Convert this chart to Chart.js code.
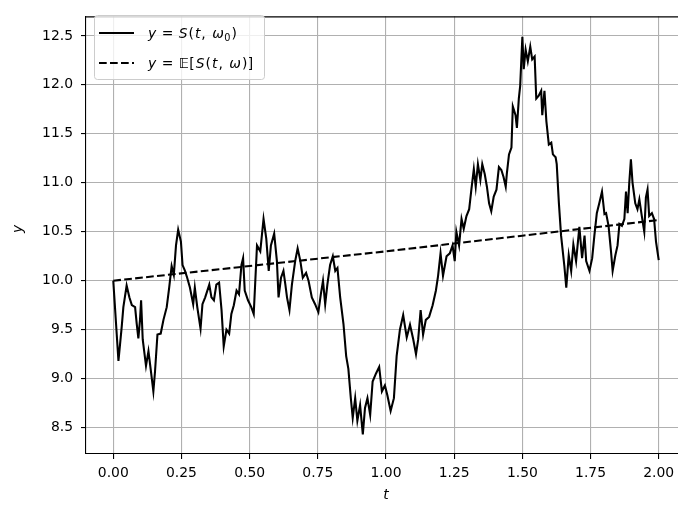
<!DOCTYPE html>
<html>
<head>
<meta charset="utf-8">
<style>
  html, body { margin: 0; padding: 0; background: #fff; overflow: hidden; }
</style>
</head>
<body>
<canvas id="gbm" width="700" height="505"></canvas>
<script src="https://cdn.jsdelivr.net/npm/chart.js"></script>
<script>
// sample path S(t, w0)
const tPath = [0, 0.019, 0.031, 0.037, 0.049, 0.059, 0.068, 0.080, 0.086, 0.092, 0.098, 0.102, 0.108, 0.120, 0.129, 0.137, 0.147, 0.153, 0.162, 0.174,
  0.184, 0.196, 0.205, 0.214, 0.222, 0.230, 0.238, 0.248, 0.254, 0.263, 0.271, 0.281, 0.293, 0.299, 0.308, 0.320, 0.327, 0.337, 0.352, 0.360,
  0.369, 0.378, 0.388, 0.397, 0.405, 0.415, 0.425, 0.433, 0.442, 0.452, 0.461, 0.470, 0.476, 0.482, 0.494, 0.506, 0.515, 0.527, 0.539, 0.551,
  0.561, 0.570, 0.578, 0.590, 0.600, 0.606, 0.615, 0.624, 0.631, 0.637, 0.646, 0.655, 0.667, 0.676, 0.686, 0.695, 0.707, 0.716, 0.728, 0.740,
  0.752, 0.761, 0.769, 0.777, 0.785, 0.795, 0.805, 0.814, 0.822, 0.832, 0.844, 0.854, 0.862, 0.871, 0.878, 0.887, 0.895, 0.905, 0.915, 0.923,
  0.932, 0.942, 0.951, 0.963, 0.975, 0.985, 0.996, 1.005, 1.017, 1.029, 1.039, 1.051, 1.063, 1.076, 1.088, 1.100, 1.110, 1.118, 1.127, 1.136,
  1.146, 1.158, 1.171, 1.183, 1.191, 1.200, 1.209, 1.222, 1.234, 1.244, 1.252, 1.258, 1.268, 1.277, 1.285, 1.295, 1.305, 1.313, 1.322, 1.329,
  1.337, 1.346, 1.353, 1.362, 1.370, 1.378, 1.386, 1.395, 1.405, 1.414, 1.423, 1.431, 1.439, 1.443, 1.451, 1.460, 1.465, 1.475, 1.480, 1.487,
  1.492, 1.500, 1.505, 1.512, 1.520, 1.529, 1.536, 1.545, 1.551, 1.560, 1.569, 1.573, 1.581, 1.588, 1.597, 1.606, 1.612, 1.622, 1.626, 1.634,
  1.642, 1.654, 1.661, 1.670, 1.679, 1.687, 1.697, 1.709, 1.719, 1.728, 1.734, 1.746, 1.756, 1.764, 1.773, 1.782, 1.792, 1.801, 1.807, 1.816,
  1.825, 1.831, 1.841, 1.849, 1.856, 1.865, 1.874, 1.880, 1.886, 1.892, 1.898, 1.904, 1.914, 1.922, 1.929, 1.938, 1.947, 1.953, 1.959, 1.965,
  1.975, 1.983, 1.990, 2.000];
const sPath = [10.00, 9.18, 9.53, 9.73, 9.95, 9.83, 9.75, 9.73, 9.56, 9.41, 9.60, 9.80, 9.40, 9.13, 9.28, 9.10, 8.87, 9.07, 9.45, 9.46,
  9.60, 9.73, 9.93, 10.15, 10.06, 10.36, 10.52, 10.40, 10.16, 10.10, 10.03, 9.93, 9.76, 9.93, 9.73, 9.51, 9.76, 9.83, 9.96, 9.83,
  9.80, 9.96, 9.98, 9.70, 9.33, 9.50, 9.46, 9.66, 9.75, 9.90, 9.86, 10.16, 10.23, 9.90, 9.80, 9.73, 9.66, 10.36, 10.30, 10.63,
  10.43, 10.10, 10.36, 10.48, 10.20, 9.83, 10.03, 10.10, 9.96, 9.83, 9.70, 9.96, 10.20, 10.33, 10.20, 10.03, 10.08, 10.00, 9.83, 9.76,
  9.68, 9.86, 10.00, 9.76, 9.96, 10.16, 10.25, 10.10, 10.13, 9.83, 9.56, 9.23, 9.10, 8.80, 8.60, 8.80, 8.57, 8.73, 8.43, 8.70,
  8.80, 8.63, 8.97, 9.05, 9.12, 8.87, 8.93, 8.83, 8.67, 8.80, 9.23, 9.50, 9.65, 9.42, 9.55, 9.40, 9.25, 9.40, 9.70, 9.45,
  9.60, 9.63, 9.75, 9.90, 10.05, 10.28, 10.05, 10.25, 10.28, 10.36, 10.20, 10.50, 10.36, 10.63, 10.53, 10.66, 10.73, 10.93, 11.14, 10.96,
  11.19, 11.03, 11.19, 11.09, 10.96, 10.79, 10.71, 10.86, 10.93, 11.16, 11.13, 11.06, 10.96, 11.09, 11.29, 11.36, 11.78, 11.69, 11.56, 11.86,
  11.99, 12.49, 12.16, 12.36, 12.24, 12.39, 12.26, 12.29, 11.86, 11.89, 11.94, 11.69, 11.94, 11.63, 11.39, 11.41, 11.29, 11.26, 11.19, 10.79,
  10.46, 10.15, 9.93, 10.26, 10.10, 10.37, 10.20, 10.55, 10.23, 10.46, 10.20, 10.10, 10.23, 10.46, 10.69, 10.79, 10.91, 10.68, 10.69, 10.56,
  10.30, 10.10, 10.26, 10.36, 10.58, 10.56, 10.63, 10.91, 10.69, 11.00, 11.24, 11.00, 10.79, 10.73, 10.83, 10.66, 10.50, 10.85, 10.93, 10.66,
  10.69, 10.63, 10.40, 10.21];

// expected value E[S(t, w)]
const tMean = [0, 0.5, 1.0, 1.5, 2.0];
const sMean = [10.00, 10.15, 10.30, 10.46, 10.62];

const xTicks = [0, 0.25, 0.5, 0.75, 1.0, 1.25, 1.5, 1.75, 2.0];
const yTicks = [8.5, 9.0, 9.5, 10.0, 10.5, 11.0, 11.5, 12.0, 12.5];

const FONT = '"DejaVu Sans", sans-serif';
const FS = 13.9;
const LW = 2.08;            // 1.5pt at 100 dpi
const DASH = [7.7, 3.3];

// mathtext-ish: [text, style, extra gap after]
function drawMath(ctx, parts, x, y) {
  for (const [txt, style, gap] of parts) {
    let size = FS, dy = 0, it = '';
    if (style === 'i') it = 'italic ';
    if (style === 'sub') { size = FS * 0.7; dy = 3; }
    ctx.font = it + size + 'px ' + FONT;
    ctx.fillText(txt, x, y + dy);
    x += ctx.measureText(txt).width + (gap || 0);
  }
}

const decorations = {
  id: 'decorations',
  afterDraw(chart) {
    const { ctx, chartArea } = chart;
    ctx.save();
    // top spine
    ctx.strokeStyle = '#000';
    ctx.lineWidth = 1.1;
    ctx.beginPath();
    ctx.moveTo(chartArea.left, chartArea.top + 0.5);
    ctx.lineTo(chartArea.right, chartArea.top + 0.5);
    ctx.stroke();

    // axis titles
    ctx.fillStyle = '#000';
    ctx.textAlign = 'center';
    ctx.textBaseline = 'middle';
    ctx.font = 'italic ' + FS + 'px ' + FONT;
    ctx.fillText('t', 386, 495);
    ctx.save();
    ctx.translate(18, 229);
    ctx.rotate(-Math.PI / 2);
    ctx.fillText('y', 0, 0);
    ctx.restore();

    // legend box
    const bx = 94.5, by = 15.5, bw = 170, bh = 64, r = 3;
    ctx.beginPath();
    ctx.moveTo(bx + r, by);
    ctx.arcTo(bx + bw, by, bx + bw, by + bh, r);
    ctx.arcTo(bx + bw, by + bh, bx, by + bh, r);
    ctx.arcTo(bx, by + bh, bx, by, r);
    ctx.arcTo(bx, by, bx + bw, by, r);
    ctx.closePath();
    ctx.fillStyle = 'rgba(255,255,255,0.8)';
    ctx.fill();
    ctx.strokeStyle = '#cccccc';
    ctx.lineWidth = 1;
    ctx.stroke();

    ctx.strokeStyle = '#000';
    ctx.lineWidth = LW;
    ctx.beginPath();
    ctx.moveTo(99, 33);
    ctx.lineTo(134, 33);
    ctx.stroke();
    ctx.setLineDash(DASH);
    ctx.beginPath();
    ctx.moveTo(99, 63);
    ctx.lineTo(134, 63);
    ctx.stroke();
    ctx.setLineDash([]);

    ctx.fillStyle = '#000';
    ctx.textAlign = 'left';
    ctx.textBaseline = 'alphabetic';
    drawMath(ctx, [['y', 'i', 1], [' = ', '', 1], ['S', 'i', 1], ['(', '', 1], ['t', 'i', 1], [', ', '', 2], ['\u03c9', 'i', 0.5], ['0', 'sub', 1], [')', '']], 148, 38);
    drawMath(ctx, [['y', 'i', 1], [' = ', '', 1], ['\ud835\udd3c', '', 0.5], ['[', '', 1], ['S', 'i', 1], ['(', '', 1], ['t', 'i', 1], [', ', '', 2], ['\u03c9', 'i', 1], [')', '', 0.5], [']', '']], 148, 68);
    ctx.restore();
  }
};

new Chart(document.getElementById('gbm'), {
  type: 'line',
  data: {
    datasets: [
      {
        label: 'path',
        data: tPath.map((t, i) => ({ x: t, y: sPath[i] })),
        borderColor: '#000',
        borderWidth: LW,
        pointRadius: 0,
        tension: 0,
      },
      {
        label: 'mean',
        data: tMean.map((t, i) => ({ x: t, y: sMean[i] })),
        borderColor: '#000',
        borderWidth: LW,
        borderDash: DASH,
        pointRadius: 0,
        tension: 0,
      },
    ],
  },
  options: {
    responsive: false,
    animation: false,
    layout: { padding: { top: 6, right: 14, left: 0, bottom: 0 } },
    plugins: { legend: { display: false }, tooltip: { enabled: false } },
    scales: {
      x: {
        type: 'linear',
        min: -0.1,
        max: 2.1,
        afterBuildTicks: (s) => { s.ticks = xTicks.map((v) => ({ value: v })); },
        afterFit: (s) => { s.height = 51; },
        ticks: {
          callback: (v) => Number(v).toFixed(2),
          font: { family: FONT, size: FS },
          color: '#000',
          padding: 6,
          maxRotation: 0,
          autoSkip: false,
        },
        grid: { color: '#b0b0b0', lineWidth: 1.1, tickColor: '#000', tickLength: 5, tickWidth: 1.1 },
        border: { color: '#000', width: 1.1 },
      },
      y: {
        min: 8.23,
        max: 12.7,
        afterBuildTicks: (s) => { s.ticks = yTicks.map((v) => ({ value: v })); },
        afterFit: (s) => { s.width = 86; },
        ticks: {
          callback: (v) => Number(v).toFixed(1),
          font: { family: FONT, size: FS },
          color: '#000',
          padding: 8,
          autoSkip: false,
        },
        grid: { color: '#b0b0b0', lineWidth: 1.1, tickColor: '#000', tickLength: 5, tickWidth: 1.1 },
        border: { color: '#000', width: 1.1 },
      },
    },
  },
  plugins: [decorations],
});
</script>
</body>
</html>
